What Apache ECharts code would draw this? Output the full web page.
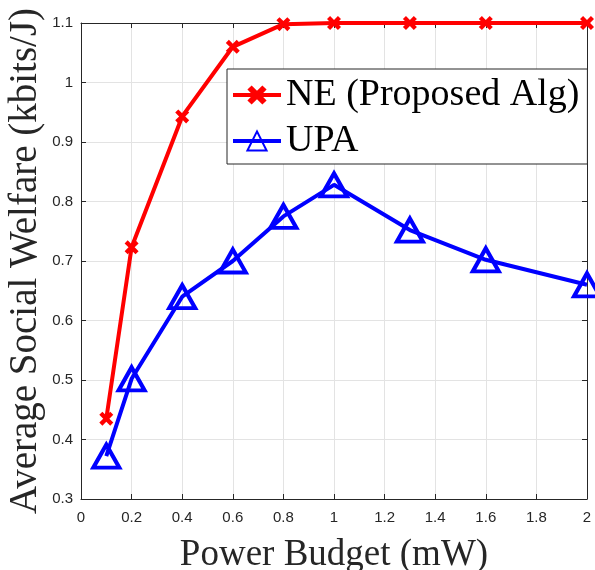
<!DOCTYPE html>
<html><head><meta charset="utf-8">
<script src="https://cdn.jsdelivr.net/npm/echarts@6/dist/echarts.min.js"></script>
<style>html,body{margin:0;padding:0;background:#fff}#c{width:595px;height:570px}</style>
</head><body><div id="c"></div>
<script>
const powerBudget = [0.1, 0.2, 0.4, 0.6, 0.8, 1.0, 1.3, 1.6, 2.0];
const neValues = [0.435, 0.723, 0.943, 1.060, 1.098, 1.100, 1.100, 1.100, 1.100];
const upaValues = [0.372, 0.502, 0.640, 0.700, 0.775, 0.828, 0.752, 0.702, 0.660];
const seriesNames = ['NE (Proposed Alg)', 'UPA'];

const crossPath = 'path://M2.2,0 L5,2.8 L7.8,0 L10,2.2 L7.2,5 L10,7.8 L7.8,10 L5,7.2 L2.2,10 L0,7.8 L2.8,5 L0,2.2 Z';
const axisColor = '#262626';
const gridColor = '#e3e3e3';
const serif = '"Liberation Serif", "Times New Roman", serif';
const sans = '"Liberation Sans", Arial, sans-serif';

const chart = echarts.init(document.getElementById('c'), null, {renderer: 'canvas'});
const pair = (xs, ys) => xs.map((x, i) => [x, ys[i]]);

chart.setOption({
  animation: false,
  backgroundColor: '#fff',
  grid: {left: 81, right: 8, top: 23, bottom: 71, containLabel: false, outerBoundsMode: 'none'},
  legend: {
    orient: 'vertical', left: 227, top: 69,
    backgroundColor: '#fff', borderColor: '#262626', borderWidth: 1,
    padding: [7, 8, 4, 4], itemGap: 8, itemWidth: 48, itemHeight: 24,
    lineStyle: {width: 4},
    textStyle: {fontFamily: serif, fontSize: 38, color: '#000'},
    data: seriesNames
  },
  xAxis: [{
    type: 'value', min: 0, max: 2, interval: 0.2,
    name: 'Power Budget (mW)', nameLocation: 'middle', nameGap: 38, nameMoveOverlap: false,
    nameTextStyle: {fontFamily: serif, fontSize: 37, color: axisColor},
    axisLine: {show: true, onZero: false, lineStyle: {color: axisColor, width: 1}},
    axisTick: {show: true, inside: true, length: 5, lineStyle: {color: axisColor}},
    axisLabel: {fontFamily: sans, fontSize: 15, color: axisColor, margin: 11},
    splitLine: {show: true, lineStyle: {color: gridColor, width: 1}}
  }, {
    type: 'value', position: 'top', min: 0, max: 2, interval: 0.2,
    axisLine: {show: true, onZero: false, lineStyle: {color: axisColor, width: 1}},
    axisTick: {show: true, inside: true, length: 5, lineStyle: {color: axisColor}},
    axisLabel: {show: false}, splitLine: {show: false}
  }],
  yAxis: [{
    type: 'value', min: 0.3, max: 1.1, interval: 0.1,
    name: 'Average Social Welfare (kbits/J)', nameLocation: 'middle', nameGap: 36, nameMoveOverlap: false,
    nameTextStyle: {fontFamily: serif, fontSize: 39, color: axisColor},
    axisLine: {show: true, onZero: false, lineStyle: {color: axisColor, width: 1}},
    axisTick: {show: true, inside: true, length: 5, lineStyle: {color: axisColor}},
    axisLabel: {fontFamily: sans, fontSize: 15, color: axisColor, margin: 8,
      formatter: v => (Math.round(v * 10) / 10).toString()},
    splitLine: {show: true, lineStyle: {color: gridColor, width: 1}}
  }, {
    type: 'value', position: 'right', min: 0.3, max: 1.1, interval: 0.1,
    axisLine: {show: true, onZero: false, lineStyle: {color: axisColor, width: 1}},
    axisTick: {show: true, inside: true, length: 5, lineStyle: {color: axisColor}},
    axisLabel: {show: false}, splitLine: {show: false}
  }],
  series: [{
    name: seriesNames[0], type: 'line', data: pair(powerBudget, neValues),
    lineStyle: {color: '#ff0000', width: 4},
    symbol: crossPath, symbolSize: 14, showAllSymbol: true,
    itemStyle: {color: '#ff0000', borderWidth: 0},
    clip: false, z: 3
  }, {
    name: seriesNames[1], type: 'line', data: pair(powerBudget, upaValues),
    lineStyle: {color: '#0000ff', width: 4},
    symbol: 'triangle', symbolSize: [26, 23], showAllSymbol: true,
    itemStyle: {color: 'rgba(255,255,255,0)', borderColor: '#0000ff', borderWidth: 4},
    clip: false, z: 2
  }]
});
</script></body></html>
